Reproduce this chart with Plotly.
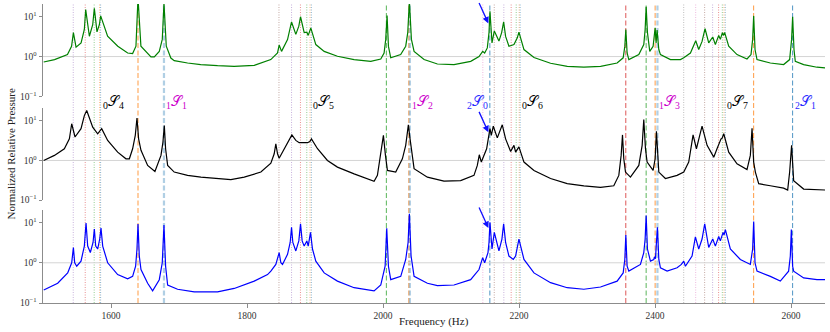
import math
import plotly.graph_objects as go

# ---- measured spectra (Hz, normalized relative pressure) ----
freq_top = [1501, 1517, 1536, 1542, 1544.7, 1548.6, 1556, 1560.8, 1562.8, 1568.2,
            1573.1, 1575.5, 1579.4, 1582.9, 1584.8, 1595, 1610, 1624.5, 1631.8, 1636.7,
            1639.7, 1644, 1658.8, 1663.7, 1671, 1675.4, 1677.9, 1681.3, 1688, 1693,
            1712.6, 1732, 1756.7, 1781, 1810.6, 1830, 1835, 1844.9, 1847.3, 1850.8,
            1859.6, 1865.5, 1871.8, 1876.2, 1878.7, 1884.1, 1888, 1890, 1893.9, 1901.2,
            1913.5, 1933, 1957.5, 1982, 1996.7, 2001.6, 2004, 2006, 2008, 2011.4,
            2026, 2033.4, 2036.4, 2038.8, 2041.8, 2045.7, 2060.4, 2080, 2104.4, 2129,
            2141.2, 2146.6, 2149.5, 2153.4, 2155.9, 2157.3, 2160.3, 2163.7, 2170.5, 2174.5,
            2177.4, 2180.3, 2185.2, 2192.6, 2197.5, 2199.9, 2207.3, 2222, 2246.4, 2271,
            2295.4, 2320, 2344.3, 2353.2, 2355.6, 2357.1, 2359, 2361.5, 2376.2, 2383.5,
            2385.5, 2387, 2388.9, 2392.3, 2397.2, 2400.2, 2401.6, 2403.1, 2405.6, 2408,
            2422.7, 2437.4, 2442.3, 2452.1, 2459.9, 2464.3, 2469.2, 2473.6, 2479, 2484.9,
            2488.8, 2493.7, 2496.1, 2499.1, 2500.6, 2502.5, 2508.4, 2520.6, 2535.3, 2541.2,
            2543.6, 2545.1, 2547.1, 2550, 2569.6, 2589.2, 2598, 2600.9, 2602.4, 2604.4,
            2606.3, 2618.6, 2638.2, 2650.4]
p_top = [0.73, 0.84, 1.12, 1.82, 3.98, 1.72, 2.19, 4.8, 15.1, 3.24,
         6.3, 16.2, 4.17, 6.3, 10.5, 3.24, 1.82, 1.23, 1.19, 1.82,
         30, 1.82, 0.98, 0.98, 1.35, 2.7, 22, 1.82, 0.92, 0.79,
         0.69, 0.63, 0.59, 0.57, 0.60, 0.76, 0.84, 1.23, 1.95, 1.35,
         2.68, 7.4, 3.6, 5.8, 10, 4.0, 4.1, 3.4, 5.2, 2.0,
         1.35, 1.02, 0.84, 0.76, 0.87, 1.23, 2.7, 10.8, 1.8, 0.93,
         1.12, 1.82, 4.0, 25, 2.7, 1.35, 0.84, 0.65, 0.63, 0.76,
         1.0, 1.35, 1.23, 1.65, 4.0, 13.8, 2.2, 4.4, 2.45, 4.0,
         7.4, 3.2, 1.82, 2.0, 2.95, 4.1, 1.5, 0.95, 0.68, 0.57,
         0.54, 0.57, 0.69, 0.93, 1.8, 4.8, 1.23, 0.84, 1.12, 2.0,
         4.8, 17.8, 4.0, 1.35, 1.82, 5.3, 2.2, 4.6, 1.5, 1.12,
         0.84, 0.84, 0.93, 1.23, 2.5, 1.5, 2.4, 5.0, 2.2, 3.1,
         2.0, 3.4, 2.7, 4.0, 3.4, 4.0, 1.82, 1.12, 0.87, 1.12,
         2.7, 10.5, 1.5, 0.84, 0.69, 0.63, 0.84, 2.7, 10, 1.5,
         0.76, 0.63, 0.54, 0.52]

freq_mid = [1501, 1516.8, 1531.4, 1538.8, 1542.2, 1547.1, 1555.9, 1560.8, 1564.3, 1568.2,
            1573.1, 1580.4, 1586.3, 1595.1, 1609.8, 1622, 1627, 1631.8, 1635.7, 1638.2,
            1640.6, 1644.1, 1653.9, 1664.6, 1673.5, 1676.4, 1678.4, 1680.3, 1683.3, 1693,
            1712.6, 1732.2, 1756.7, 1776.3, 1795.9, 1820.4, 1835.1, 1840, 1842.4, 1844.9,
            1847.3, 1857.1, 1862, 1866, 1871.8, 1876.7, 1889, 1892.4, 1894.8, 1903.7,
            1918.3, 1933, 1957.5, 1986.9, 1991.8, 1996.7, 2000.6, 2003.6, 2006.5, 2018.7,
            2028.5, 2033.4, 2037.3, 2039.8, 2045.7, 2065.3, 2089.7, 2114.2, 2133.8, 2138.7,
            2141.6, 2144.6, 2152.4, 2157.3, 2159.3, 2162.2, 2168.1, 2175.4, 2180.3, 2187.7,
            2192.6, 2195, 2199.9, 2207.3, 2222, 2246.4, 2270.9, 2295.4, 2319.9, 2339.4,
            2346.8, 2350.2, 2352.2, 2354.1, 2356.6, 2363.9, 2376.2, 2381.1, 2383.5, 2386,
            2388.4, 2397.2, 2400.2, 2402.1, 2404.1, 2405.6, 2415.3, 2432.5, 2442.3, 2449.6,
            2456, 2460.9, 2465.8, 2469.2, 2476.6, 2486.4, 2491.2, 2497.1, 2498.6, 2501.1,
            2508.4, 2520.6, 2535.3, 2540.2, 2542.7, 2545.1, 2547.6, 2552.5, 2569.6, 2589.2,
            2595.1, 2598, 2600.9, 2603.9, 2618.6, 2650.4]
p_mid = [1.0, 1.34, 1.97, 3.5, 8.4, 3.9, 6.3, 13.5, 18.2, 12.4,
         6.9, 4.7, 6.3, 3.2, 1.62, 1.1, 1.1, 1.97, 4.3, 11.7,
         3.5, 1.8, 0.75, 0.53, 1.34, 2.9, 7.6, 1.97, 0.75, 0.51,
         0.42, 0.38, 0.35, 0.33, 0.38, 0.51, 0.85, 1.47, 2.6, 1.47,
         1.14, 2.4, 3.5, 4.4, 3.2, 2.8, 2.8, 3.0, 3.5, 1.97,
         1.0, 0.68, 0.46, 0.30, 0.42, 1.34, 4.3, 1.34, 0.56, 0.51,
         1.1, 2.4, 7.9, 3.5, 0.62, 0.38, 0.30, 0.31, 0.42, 0.75,
         1.39, 0.91, 1.97, 6.3, 4.3, 7.3, 3.7, 7.9, 3.5, 1.69,
         2.4, 1.62, 2.2, 0.91, 0.56, 0.35, 0.26, 0.23, 0.21, 0.23,
         0.42, 1.34, 4.4, 1.1, 0.51, 0.38, 0.75, 2.4, 10.8, 1.97,
         0.91, 0.56, 1.1, 5.4, 0.91, 0.51, 0.35, 0.42, 0.51, 0.91,
         4.4, 1.97, 4.3, 7.3, 2.4, 1.21, 1.97, 3.5, 3.6, 4.7,
         1.62, 0.82, 0.59, 1.34, 6.5, 0.91, 0.51, 0.26, 0.23, 0.20,
         0.18, 0.51, 2.4, 0.31, 0.19, 0.18]

freq_bot = [1501.1, 1521.6, 1536.3, 1542.2, 1544.7, 1546.6, 1549.6, 1555.9, 1560.8, 1563.3,
            1565.7, 1569.6, 1573.6, 1575.5, 1577.5, 1580.4, 1583.4, 1585.3, 1587.8, 1595.1,
            1609.8, 1624.5, 1631.8, 1636.2, 1638.2, 1639.7, 1641.6, 1644.1, 1653.9, 1661.2,
            1671, 1675.4, 1677.9, 1680.3, 1683.3, 1697.9, 1722.4, 1737.1, 1756.7, 1781.2,
            1810.6, 1830.2, 1835.1, 1842.4, 1844.9, 1847.3, 1849.8, 1852.2, 1859.6, 1863.5,
            1865.5, 1867.4, 1871.8, 1876.2, 1878.7, 1881.1, 1884.1, 1888, 1890, 1893.4,
            1896.3, 1901.2, 1913.5, 1933, 1957.5, 1986.9, 1996.7, 2003.1, 2005.5, 2008,
            2011.4, 2026.1, 2033.4, 2036.9, 2038.8, 2041.3, 2045.7, 2065.3, 2080, 2104.4,
            2128.9, 2141.2, 2146.6, 2149.5, 2154.4, 2155.9, 2157.3, 2160.3, 2163.7, 2170.5,
            2174.9, 2177.4, 2180.3, 2185.2, 2191.6, 2195, 2199.9, 2207.3, 2222, 2246.4,
            2270.9, 2295.4, 2319.9, 2344.3, 2353.2, 2355.6, 2357.1, 2359, 2361.5, 2378.6,
            2383.5, 2385.5, 2387, 2388.9, 2393.3, 2398.2, 2399.2, 2400.7, 2402.1, 2403.6,
            2405.6, 2408, 2417.8, 2432.5, 2438.8, 2442.3, 2444.7, 2454.5, 2459.4, 2464.3,
            2469.2, 2473.1, 2479, 2484.9, 2488.8, 2493.7, 2496.1, 2500.1, 2501.5, 2503.5,
            2510.8, 2525.5, 2540.2, 2543.6, 2545.1, 2547.1, 2550, 2569.6, 2584.3, 2596.5,
            2599, 2600.5, 2602.4, 2603.9, 2618.6, 2638.2, 2650.4]
p_bot = [0.21, 0.31, 0.56, 1.0, 2.4, 1.0, 0.82, 1.1, 2.6, 9.8,
         2.6, 1.8, 3.2, 6.9, 2.6, 2.2, 3.9, 7.3, 2.6, 1.0,
         0.51, 0.40, 0.46, 0.82, 2.2, 9.2, 1.47, 0.68, 0.31, 0.20,
         0.38, 1.0, 8.7, 0.82, 0.28, 0.22, 0.19, 0.19, 0.19, 0.23,
         0.35, 0.51, 0.62, 0.91, 1.21, 1.79, 1.0, 0.91, 1.62, 3.2,
         7.6, 3.2, 1.97, 3.5, 9.3, 3.5, 2.6, 3.5, 2.6, 5.7,
         2.2, 1.1, 0.56, 0.35, 0.24, 0.20, 0.28, 0.82, 7.2, 0.82,
         0.38, 0.46, 1.21, 3.2, 16.6, 1.47, 0.46, 0.31, 0.27, 0.28,
         0.38, 0.68, 1.34, 1.0, 1.79, 3.2, 10.2, 2.2, 5.7, 1.97,
         3.9, 9.3, 3.2, 1.47, 1.21, 1.47, 3.9, 1.21, 0.56, 0.32,
         0.24, 0.22, 0.25, 0.35, 0.56, 1.21, 4.9, 0.82, 0.62, 0.91,
         1.79, 3.9, 15, 2.2, 1.1, 1.21, 1.4, 1.26, 3.2, 7.6,
         1.21, 0.75, 0.62, 0.75, 0.91, 1.1, 0.82, 1.47, 4.4, 2.2,
         3.9, 9.3, 2.4, 3.9, 2.6, 4.5, 3.5, 5.7, 4.9, 6.7,
         2.2, 1.21, 0.91, 2.2, 10.6, 1.0, 0.62, 0.46, 0.35, 0.62,
         1.47, 6.7, 0.82, 0.62, 0.42, 0.38, 0.38]

# ---- predicted mode frequencies ----
dotted_freq = [1544.5, 1562.1, 1575.3, 1583.3, 1584.7,
               1847.0, 1865.5, 1878.6, 1887.9, 1892.7, 1894.7,
               2146.8, 2163.6, 2177.7, 2188.5, 2195.9, 2200.3, 2201.7,
               2442.2, 2459.8, 2473.0, 2484.7, 2493.5, 2499.0, 2501.5, 2503.4]
dotted_color = ["purple", "red", "green", "orange", "blue",
                "brown", "purple", "red", "green", "orange", "blue",
                "pink", "brown", "purple", "red", "green", "orange", "blue",
                "gray", "pink", "brown", "purple", "red", "green", "orange", "blue"]
dashed_freq = [1639.7, 1677.9, 2005.0, 2038.0, 2039.5, 2157.1,
               2357.0, 2387.0, 2400.2, 2403.6, 2545.0, 2602.3]
dashed_color = ["orange", "blue", "green", "orange", "blue", "blue",
                "red", "green", "orange", "blue", "orange", "blue"]
dashed_family = [1, 1, 1, 1, 1, 2, 1, 1, 1, 1, 2, 2]

label_freq = [1584.7, 1677.9, 1894.7, 2039.5, 2157.1, 2201.7, 2403.6, 2503.4, 2602.3]
label_n = [0, 1, 0, 1, 2, 0, 1, 0, 2]
label_l = [4, 1, 5, 2, 0, 6, 3, 7, 1]

arrow_freq = 2155.0
arrow_val = [6.8, 5.1, 7.3]

tab10 = {"blue": "#1f77b4", "orange": "#ff7f0e", "green": "#2ca02c", "red": "#d62728",
         "purple": "#9467bd", "brown": "#8c564b", "pink": "#e377c2", "gray": "#7f7f7f"}
family_color = {0: "black", 1: "#cc00cc", 2: "#2828ff"}

FONT = "Liberation Serif, DejaVu Serif, serif"
domains = [[0.691, 1.0], [0.344, 0.652], [0.0, 0.312]]
series = [(freq_top, p_top, "#008000"), (freq_mid, p_mid, "black"), (freq_bot, p_bot, "#0000ff")]

fig = go.Figure()
for i, (fx, py, col) in enumerate(series, start=1):
    sfx = "" if i == 1 else str(i)
    fig.add_trace(go.Scatter(x=[1500, 2650], y=[1, 1], mode="lines",
                             line=dict(color="#d4d4d4", width=1),
                             xaxis="x" + sfx, yaxis="y" + sfx, hoverinfo="skip"))
    fig.add_trace(go.Scatter(x=fx, y=py, mode="lines", line=dict(color=col, width=1.2),
                             xaxis="x" + sfx, yaxis="y" + sfx))
    last = i == 3
    fig.layout["xaxis" + sfx] = dict(
        domain=[0, 1], range=[1500, 2650], anchor="y" + sfx,
        showline=last, linecolor="#8c8c8c", linewidth=1, mirror=False,
        ticks="outside" if last else "", ticklen=3.5, tickcolor="#8c8c8c",
        tickvals=[1600, 1800, 2000, 2200, 2400, 2600], showticklabels=last,
        showgrid=False, zeroline=False, tickfont=dict(size=9.5, color="#333"))
    fig.layout["yaxis" + sfx] = dict(
        type="log", range=[-1, 1.32], domain=domains[i - 1], anchor="x" + sfx,
        showline=True, linecolor="#8c8c8c", linewidth=1,
        ticks="outside", ticklen=3.5, tickcolor="#8c8c8c",
        tickvals=[0.1, 1, 10], ticktext=["10<sup>\u22121</sup>", "10<sup>0</sup>", "10<sup>1</sup>"],
        showgrid=False, zeroline=False, tickfont=dict(size=9.5, color="#333"))

shapes = []
for f, c in zip(dotted_freq, dotted_color):
    shapes.append(dict(type="line", xref="x", yref="paper", x0=f, x1=f, y0=0, y1=1,
                       line=dict(color=tab10[c], width=1, dash="1px,1.5px"), opacity=0.5,
                       layer="below"))
for f, c, fam in zip(dashed_freq, dashed_color, dashed_family):
    thick = fam == 1 and c == "blue"
    shapes.append(dict(type="line", xref="x", yref="paper", x0=f, x1=f, y0=0, y1=1,
                       line=dict(color=tab10[c], width=2.2 if thick else 1.1, dash="5px,2.5px"),
                       opacity=0.35 if thick else 0.7, layer="below"))
fig.update_layout(shapes=shapes)

ann = []
for f, n, l in zip(label_freq, label_n, label_l):
    ann.append(dict(x=f, y=0.672, xref="x", yref="paper", showarrow=False,
                    xanchor="right" if (n == 2 and l == 0) else "left", yanchor="middle",
                    text="<sub>%d</sub>\U0001D4AE<sub>%d</sub>" % (n, l),
                    font=dict(size=14, color=family_color[n], family=FONT)))
for i, v in enumerate(arrow_val, start=1):
    sfx = "" if i == 1 else str(i)
    ann.append(dict(x=arrow_freq, y=math.log10(v), xref="x" + sfx, yref="y" + sfx,
                    ax=-10, ay=-22, showarrow=True, arrowhead=2, arrowsize=1,
                    arrowwidth=1.3, arrowcolor="#1010ff", text=""))
ann.append(dict(x=-0.041, y=0.5, xref="paper", yref="paper", showarrow=False,
                xanchor="center", yanchor="middle",
                text="Normalized Relative Pressure", textangle=-90,
                font=dict(size=11, color="#222", family=FONT)))
ann.append(dict(x=0.5, y=-0.062, xref="paper", yref="paper", showarrow=False,
                xanchor="center", yanchor="middle", text="Frequency (Hz)",
                font=dict(size=11, color="#222", family=FONT)))
fig.update_layout(annotations=ann)

fig.update_layout(width=830, height=332, margin=dict(l=43, r=5, t=4, b=29),
                  showlegend=False, plot_bgcolor="white", paper_bgcolor="white",
                  font=dict(family=FONT, size=10, color="#222"))
# the page body has a default 8px margin; drop it so the figure sits at the window origin
fig.write_html("out.html", config={"displayModeBar": False},
               post_script="document.body.style.margin='0px';")
